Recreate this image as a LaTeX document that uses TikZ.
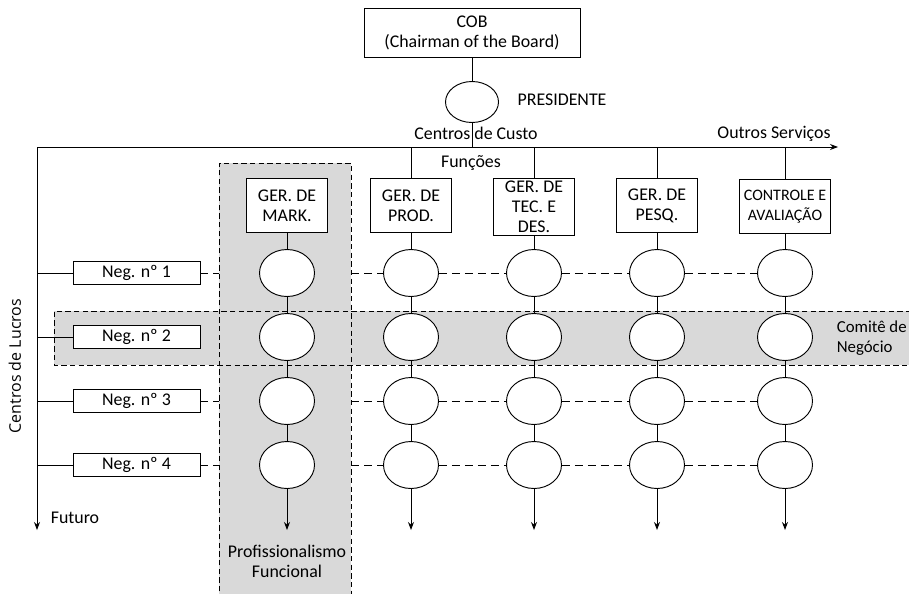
\documentclass[tikz,border=0pt]{standalone}
\usepackage{fontspec}
\setmainfont{Carlito}
\newfontfamily\lucrosfont{Open Sans}
\usetikzlibrary{shapes.geometric,positioning,arrows.meta}

\begin{document}
\begin{tikzpicture}[x=0.75pt, y=-0.75pt, line width=0.7pt,
    txt/.style={font=\fontsize{13.4}{15}\selectfont},
    box/.style={draw, fill=white, txt, align=center, inner sep=2pt},
    fbox/.style={box, anchor=north, minimum width=61pt, minimum height=40.5pt},
    negbox/.style={box, minimum width=95.25pt, minimum height=17.25pt, inner sep=1pt},
    unit/.style={draw, fill=white, ellipse, minimum width=41.25pt, minimum height=35.25pt, inner sep=0pt},
    zone/.style={fill=gray!30},
    zoneline/.style={dash pattern=on 4pt off 2.5pt},
    link/.style={dash pattern=on 6pt off 3.75pt},
    tip/.style={-{Stealth[length=6pt,width=4.5pt]}}]

    \useasboundingbox (0,0) rectangle (909,593);

    % shaded zones
    \fill[zone] (219,163) rectangle (351,600);
    \fill[zone] (54,311) rectangle (920,365);
    \draw[zoneline] (219,600) -- (219,163) -- (351,163) -- (351,600);
    \draw[zoneline] (920,311) -- (54,311) -- (54,365) -- (920,365);
    \coordinate (zl) at (219,163);
    \coordinate (zr) at (351,163);

    % axes
    \coordinate (origin) at (37,147);
    \coordinate (east) at (838,147);
    \coordinate (south) at (37,530);
    \draw[tip] (origin) -- (east);
    \draw[tip] (origin) -- (south);

    % top
    \node[box, minimum width=162pt, minimum height=36.75pt] (cob) at (472,33) {COB\\(Chairman of the Board)};
    \node[unit, minimum width=39.75pt, minimum height=30.75pt] (pres) at (472,102) {};
    \draw (cob) -- (pres);
    \draw (pres) -- (pres |- origin);

    \node[txt] (preslabel) at (562,100) {PRESIDENTE};
    \node[txt] (custo) at (476,133) {Centros de Custo};
    \node[txt] (outros) at (774,134) {Outros Serviços};
    \node[txt] (funcoes) at (471,163) {Funções};
    \node[txt] (futuro) at (75,518) {Futuro};
    \node[txt, align=center] (prof) at (287,561) {Profissionalismo\\Funcional};
    \node[font=\fontsize{12.6}{15}\selectfont, align=left, anchor=west, inner sep=1pt] (comite) at (835,338) {Comitê de\\Negócio};
    \node[font=\lucrosfont\fontsize{12}{14}\selectfont, rotate=90] (lucros) at (15,366) {Centros de Lucros};

    % functions
    \foreach \x/\name [count=\i] in {287/{GER. DE\\MARK.}, 411/{GER. DE\\PROD.}, 534/{GER. DE\\TEC. E\\DES.}, 657/{GER. DE\\PESQ.}}
        \node[fbox] (f-\i) at (\x,178) {\name};
    \node[fbox, minimum width=68.25pt, font=\fontsize{12}{15}\selectfont] (f-5) at (785,179) {CONTROLE E\\AVALIAÇÃO};

    \foreach \i in {2,...,5}
        \draw (f-\i.north) -- (f-\i.north |- origin);

    % units
    \foreach \x [count=\i] in {287,411,534,657,785}{
        \foreach \y [count=\j] in {273,337,401,465}
            \node[unit] (u-\i-\j) at (\x,\y) {};
        \draw (f-\i) -- (u-\i-1);
        \draw (u-\i-1) -- (u-\i-2);
        \draw (u-\i-2) -- (u-\i-3);
        \draw (u-\i-3) -- (u-\i-4);
        \draw[tip] (u-\i-4.south) -- (u-\i-4.south |- south);
    }

    % business units
    \foreach \y [count=\j] in {273,337,401,465}{
        \node[negbox] (n-\j) at (136.5,\y) {Neg. nº \j};
        \draw (n-\j.west -| origin) -- (n-\j);
    }
    \foreach \j in {1,3,4}{
        \draw[link] (n-\j) -- (n-\j -| zl);
        \draw[link] (n-\j -| zr) -- (u-2-\j);
        \draw[link] (u-2-\j) -- (u-3-\j) -- (u-4-\j) -- (u-5-\j);
    }
\end{tikzpicture}
\end{document}
